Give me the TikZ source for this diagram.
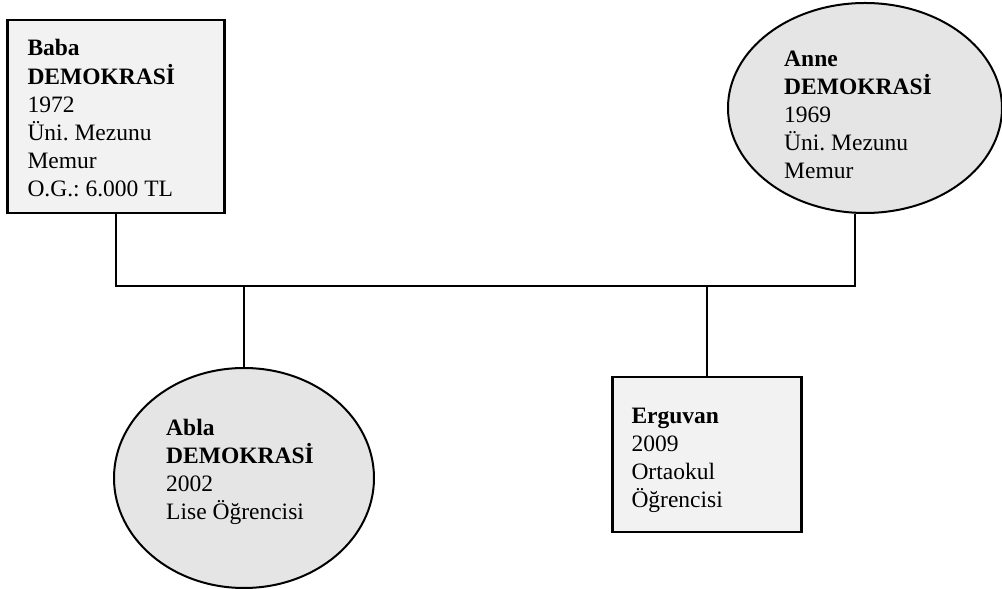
\documentclass[tikz,border=0pt]{standalone}
\usepackage{fontspec}
\setmainfont{Liberation Serif}
\frenchspacing
\usetikzlibrary{
  	positioning,
  	shapes.geometric
  }
\newcommand{\satirlar}[1]{\begin{tabular}{@{}l@{}}#1\end{tabular}}

\begin{document}
\begin{tikzpicture}[x=1pt, y=1pt,
	every node/.style={font=\fontsize{23.5}{28}\selectfont},
	kutu/.style={draw, line width=2.4pt, fill=gray!10},
	elips/.style={draw, ellipse, line width=2pt, fill=gray!20, inner sep=0pt},
	yazi/.style={inner sep=0pt},
	bag/.style={line width=2pt}]
	\useasboundingbox (0,0) rectangle (1002,589);
%
	\node[kutu, minimum width=217pt, minimum height=193pt] (baba) at (116,472.5) {};
	\node[yazi, right=21pt of baba.west, yshift=-4pt] (babaYazi)
		{\satirlar{\textbf{Baba}\\ \textbf{DEMOKRASİ}\\ 1972\\ Üni. Mezunu\\ Memur\\ O.G.: 6.000 TL}};
	\node[elips, minimum width=274pt, minimum height=210pt] (anne) at (865,481) {};
	\node[yazi, xshift=-7pt, yshift=-9pt] (anneYazi) at (anne.center)
		{\satirlar{\textbf{Anne}\\ \textbf{DEMOKRASİ}\\ 1969\\ Üni. Mezunu\\ Memur}};
%
	\node[elips, minimum width=260pt, minimum height=220pt] (abla) at (244,111) {};
	\node[yazi, xshift=-4pt, yshift=6pt] (ablaYazi) at (abla.center)
		{\satirlar{\textbf{Abla}\\ \textbf{DEMOKRASİ}\\ 2002\\ Lise Öğrencisi}};
	\node[kutu, minimum width=189pt, minimum height=155pt] (erguvan) at (707,134.5) {};
	\node[yazi, right=20pt of erguvan.west, yshift=-5pt] (erguvanYazi)
		{\satirlar{\textbf{Erguvan}\\ 2009\\ Ortaokul\\ Öğrencisi}};
%
	\coordinate (hat) at (0,303);
	\draw[bag] (baba.south) |- ([xshift=-10pt]anne.south |- hat) -- ([xshift=-10pt]anne.south);
	\draw[bag] (abla.north) -- (abla.north |- hat);
	\draw[bag] (erguvan.north) -- (erguvan.north |- hat);
\end{tikzpicture}
\end{document}
